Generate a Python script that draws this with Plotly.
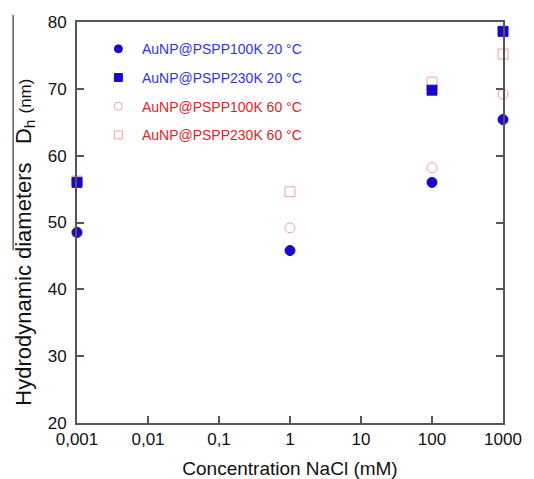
import plotly.graph_objects as go

# NaCl concentration (mM) and hydrodynamic diameters (nm)
conc = [0.001, 1, 100, 1000]
d100k_20 = [48.5, 45.8, 56.0, 65.4]
d230k_20 = [56.0, None, 69.8, 78.6]
d100k_60 = [48.6, 49.2, 58.2, 69.2]
d230k_60 = [56.2, 54.6, 71.0, 75.2]

x_tickvals = [0.001, 0.01, 0.1, 1, 10, 100, 1000]
x_ticktext = ["0,001", "0,01", "0,1", "1", "10", "100", "1000"]
y_tickvals = [20, 30, 40, 50, 60, 70, 80]

BLUE = "#1a08c8"
BLUE_TXT = "#3434e0"
RED_TXT = "#e02424"
PINK = "#f0a0a0"
AXIS = "#555555"
FONT = "Arial, Liberation Sans, sans-serif"

series = [
    ("AuNP@PSPP100K 20 °C", d100k_20, "circle", BLUE, BLUE_TXT),
    ("AuNP@PSPP230K 20 °C", d230k_20, "square", BLUE, BLUE_TXT),
    ("AuNP@PSPP100K 60 °C", d100k_60, "circle-open", PINK, RED_TXT),
    ("AuNP@PSPP230K 60 °C", d230k_60, "square-open", PINK, RED_TXT),
]

fig = go.Figure()

# data markers: 60 °C underneath, 20 °C on top
for name, vals, sym, col, _ in series[2:] + series[:2]:
    fig.add_trace(go.Scatter(
        x=conc, y=vals, mode="markers", showlegend=False, cliponaxis=False,
        marker=dict(symbol=sym, size=10, color=col, line=dict(color=col, width=1)),
    ))

# legend entries with smaller symbols and coloured labels
for i, (name, vals, sym, col, txt) in enumerate(series):
    fig.add_trace(go.Scatter(
        x=[None], y=[None], mode="markers", legendgroup=f"g{i}",
        name=f'<span style="color:{txt}">{name}</span>',
        marker=dict(symbol=sym, size=8, color=col, line=dict(color=col, width=1)),
    ))

y_title = ("Hydrodynamic diameters&nbsp;&nbsp;&nbsp;D<sub>h</sub> "
           '<span style="font-size:17px">(nm)</span>')

fig.update_layout(
    width=534, height=479,
    margin=dict(l=77, r=31, t=22, b=56, autoexpand=False),
    paper_bgcolor="white", plot_bgcolor="white",
    font=dict(family=FONT, size=17, color="#111111"),
    legend=dict(
        x=0.042, y=0.972, xanchor="left", yanchor="top",
        bgcolor="rgba(0,0,0,0)", font=dict(size=14, family=FONT),
        tracegroupgap=7.5, traceorder="grouped", itemwidth=37,
    ),
    xaxis=dict(
        type="log", range=[-3, 3], automargin=False,
        tickvals=x_tickvals, ticktext=x_ticktext,
        ticks="inside", ticklen=7, tickwidth=1.5, tickcolor=AXIS,
        showline=True, linecolor=AXIS, linewidth=2, mirror=True,
        showgrid=False, zeroline=False,
        title=dict(text="Concentration NaCl (mM)", font=dict(size=19), standoff=14),
    ),
    yaxis=dict(
        range=[20, 80], tickvals=y_tickvals, automargin=False,
        ticks="inside", ticklen=7, tickwidth=1.5, tickcolor=AXIS,
        showline=True, linecolor=AXIS, linewidth=2, mirror="ticks",
        showgrid=False, zeroline=False, ticklabelstandoff=5,
    ),
    annotations=[dict(
        text=y_title,
        xref="paper", yref="paper", x=-0.124, y=0.45,
        xanchor="center", yanchor="middle", textangle=-90, showarrow=False,
        font=dict(size=22, family=FONT, color="#111111"),
    )],
    shapes=[dict(
        type="line", xref="paper", yref="paper",
        x0=-0.150, x1=-0.150, y0=0.431, y1=1.0175,
        line=dict(color="#111111", width=1),
    )],
)

fig.write_html("out.html")
